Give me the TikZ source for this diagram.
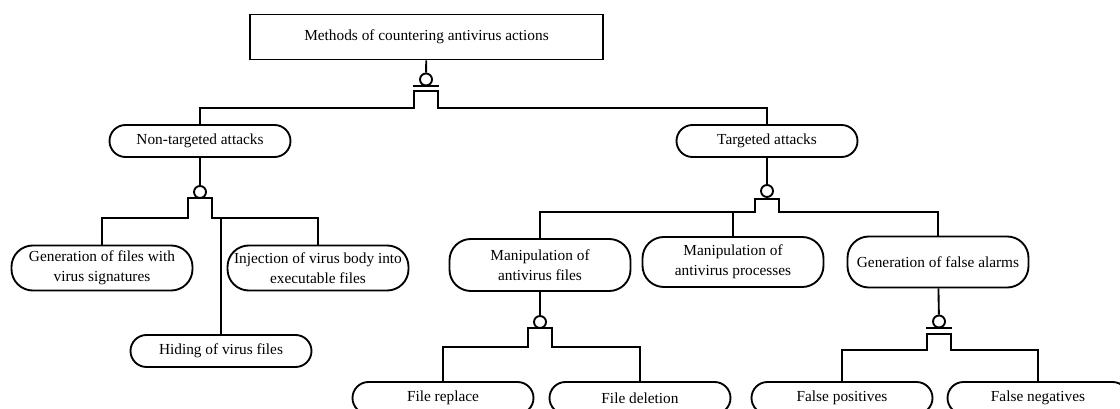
\documentclass[tikz,border=0pt]{standalone}
\usepackage{fontspec}
\setmainfont{Liberation Serif}

\begin{document}
\begin{tikzpicture}[x=0.75pt,y=-0.75pt,
  wire/.style={line width=1.4pt},
  topbox/.style={draw,line width=1.4pt,minimum width=264.75pt,minimum height=33.75pt,font=\fontsize{11.5}{15}\selectfont},
  act/.style={draw,rectangle,rounded corners=12pt,line width=1.4pt,minimum width=135.75pt,minimum height=24pt,inner xsep=0pt,align=center,font=\fontsize{11.5}{15}\selectfont},
  tall/.style={rounded corners=16pt},
  orc/.style={circle,draw,line width=1.4pt,minimum size=9pt,inner sep=0pt}]
\useasboundingbox (0,0) rectangle (1120,409);
\clip (0,0) rectangle (1120,409);

% --- root --------------------------------------------------------------
\node[topbox] (top) at (426.5,37) {Methods of countering antivirus actions};
\node[orc] (c1) at (426,79.5) {};
\coordinate (b1) at (426,108);
\draw[wire] (top) -- (c1);
\draw[wire] ([xshift=-9.75pt]c1.south) -- ([xshift=9.75pt]c1.south);

% --- first level -------------------------------------------------------
\node[act] (nt) at (200,141) {Non-targeted attacks};
\node[act] (tg) at (767,141) {Targeted attacks};
\draw[wire] (nt.north) |- ([xshift=-9pt]b1) -- ++(0,-17) -- ++(24,0) -- ++(0,17) -| (tg.north);

% --- non-targeted ------------------------------------------------------
\node[orc] (c2) at (200,192) {};
\coordinate (b2) at (200,218);
\draw[wire] (nt) -- (c2);
\node[act,tall,minimum height=33.75pt] (gen) at (102,268) {Generation of files with\\virus signatures};
\node[act,tall,minimum height=33.75pt] (inj) at (318,268) {Injection of virus body into\\executable files};
\node[act] (hid) at (221,351) {Hiding of virus files};
\draw[wire] (gen.north) |- ([xshift=-9pt]b2) -- ++(0,-20) -- ++(24,0) -- ++(0,20) -| (inj.north);
\draw[wire] (hid.north) -- (hid.north |- b2);

% --- targeted ----------------------------------------------------------
\node[orc] (c3) at (767,191) {};
\coordinate (b3) at (767,212);
\draw[wire] (tg) -- (c3);
\node[act,tall,minimum height=39pt] (maf) at (540,265) {Manipulation of\\antivirus files};
\node[act,tall,minimum height=37.5pt] (map) at (733,262) {Manipulation of\\antivirus processes};
\node[act,tall,minimum height=38.25pt] (gfa) at (938,262) {Generation of false alarms};
\draw[wire] (maf.north) |- ([xshift=-9pt]b3) -- ++(0,-13) -- ++(24,0) -- ++(0,13) -| (gfa.north);
\draw[wire] (map.north) -- (map.north |- b3);

% --- antivirus files ---------------------------------------------------
\node[orc] (c4) at (540,322) {};
\coordinate (b4) at (540,347);
\draw[wire] (maf) -- (c4);
\node[act] (frep) at (443,398) {File replace};
\node[act] (fdel) at (640,398) {File deletion};
\draw[wire] (frep.north) |- ([xshift=-9pt]b4) -- ++(0,-19) -- ++(24,0) -- ++(0,19) -| (fdel.north);

% --- false alarms ------------------------------------------------------
\node[orc] (c5) at (939,321.5) {};
\coordinate (b5) at (939,350);
\draw[wire] (gfa) -- (c5);
\draw[wire] ([xshift=-9.75pt]c5.south) -- ([xshift=9.75pt]c5.south);
\node[act] (fpos) at (842,398) {False positives};
\node[act] (fneg) at (1038,398) {False negatives};
\draw[wire] (fpos.north) |- ([xshift=-9pt]b5) -- ++(0,-16) -- ++(24,0) -- ++(0,16) -| (fneg.north);
\end{tikzpicture}
\end{document}
